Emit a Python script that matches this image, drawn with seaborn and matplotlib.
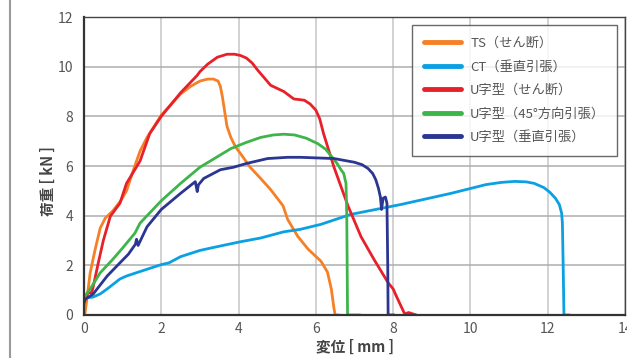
import matplotlib
matplotlib.use("Agg")
import matplotlib.pyplot as plt
from matplotlib.lines import Line2D
import seaborn as sns

# series (displacement mm, load kN)
ts_x = [0, 0.03, 0.16, 0.29, 0.42, 0.55, 0.75, 0.95, 1.1, 1.27, 1.45, 1.63, 2.0, 2.5, 2.75, 3.0,
        3.2, 3.35, 3.47, 3.53, 3.58, 3.62, 3.7, 3.8, 3.92, 4.05, 4.3, 4.57, 4.83, 5.15, 5.27, 5.53,
        5.8, 6.13, 6.3, 6.4, 6.47, 6.5, 6.6]
ts_y = [0, 0.1, 1.7, 2.65, 3.5, 3.9, 4.2, 4.6, 5.0, 5.8, 6.6, 7.15, 8.05, 8.9, 9.2, 9.42,
        9.5, 9.5, 9.42, 9.2, 8.8, 8.4, 7.6, 7.15, 6.77, 6.5, 5.95, 5.5, 5.05, 4.4, 3.85, 3.17,
        2.65, 2.17, 1.73, 1.05, 0.25, 0, 0]

ct_x = [0, 0.03, 0.1, 0.23, 0.42, 0.6, 0.93, 1.1, 1.45, 2.0, 2.2, 2.5, 3.0, 3.35, 4.05, 4.57,
        5.17, 5.6, 6.13, 6.9, 8.2, 9.5, 10.4, 10.8, 11.15, 11.45, 11.65, 11.9, 12.05, 12.2, 12.3,
        12.36, 12.38, 12.4, 12.42, 12.57]
ct_y = [0.6, 0.75, 0.7, 0.72, 0.85, 1.05, 1.45, 1.57, 1.75, 2.03, 2.1, 2.35, 2.6, 2.72, 2.95, 3.1,
        3.35, 3.45, 3.65, 4.05, 4.45, 4.9, 5.25, 5.34, 5.38, 5.36, 5.3, 5.13, 4.95, 4.7, 4.45,
        4.1, 3.7, 2.0, 0, 0]

us_x = [0, 0.1, 0.2, 0.24, 0.37, 0.5, 0.68, 0.93, 1.1, 1.45, 1.7, 2.0, 2.5, 2.93, 3.0, 3.2,
        3.45, 3.7, 3.9, 4.05, 4.2, 4.35, 4.5, 4.83, 5.17, 5.43, 5.7, 5.85, 6.0, 6.1, 6.2, 6.47,
        6.83, 7.17, 7.5, 7.87, 8.0, 8.08, 8.2, 8.3, 8.4, 8.6]
us_y = [0.5, 0.9, 0.9, 1.15, 2.1, 3.0, 3.97, 4.5, 5.3, 6.2, 7.3, 8.0, 8.95, 9.65, 9.8, 10.1,
        10.38, 10.5, 10.5, 10.45, 10.35, 10.15, 9.85, 9.25, 9.0, 8.7, 8.65, 8.5, 8.25, 7.9, 7.3,
        5.95, 4.4, 3.15, 2.25, 1.3, 1.05, 0.77, 0.37, 0.04, 0.1, 0]

u45_x = [0, 0.03, 0.16, 0.42, 0.75, 1.0, 1.32, 1.45, 2.0, 2.5, 3.0, 3.8, 4.2, 4.57, 4.9, 5.17,
         5.45, 5.75, 6.05, 6.25, 6.4, 6.55, 6.65, 6.72, 6.78, 6.8, 6.82, 6.85, 7.15]
u45_y = [0.4, 0.77, 1.05, 1.7, 2.25, 2.7, 3.3, 3.7, 4.6, 5.3, 5.95, 6.7, 6.95, 7.15, 7.25, 7.28,
         7.25, 7.12, 6.9, 6.68, 6.4, 6.1, 5.85, 5.7, 5.3, 4.0, 0, 0, 0]

uv_x = [0, 0.03, 0.24, 0.6, 0.93, 1.15, 1.33, 1.36, 1.4, 1.63, 2.0, 2.5, 2.88, 2.93, 2.96, 3.1,
        3.53, 3.87, 4.2, 4.75, 5.27, 5.6, 6.47, 7.0, 7.2, 7.35, 7.47, 7.55, 7.62, 7.67, 7.7, 7.74,
        7.8, 7.84, 7.86, 7.87, 8.03]
uv_y = [0.5, 0.63, 0.85, 1.57, 2.1, 2.45, 2.85, 3.05, 2.8, 3.55, 4.25, 4.9, 5.37, 4.97, 5.24, 5.5,
        5.85, 5.95, 6.1, 6.3, 6.35, 6.35, 6.3, 6.15, 6.05, 5.9, 5.7, 5.45, 5.1, 4.75, 4.25, 4.7,
        4.75, 4.5, 2.0, 0, 0]

labels = ["TS（せん断）", "CT（垂直引張）", "U字型（せん断）", "U字型（45°方向引張）", "U字型（垂直引張）"]
colors = ["#F58025", "#0AA0E2", "#E8202A", "#3DB54A", "#2B3592"]
series = [(ts_x, ts_y), (ct_x, ct_y), (us_x, us_y), (u45_x, u45_y), (uv_x, uv_y)]

sns.set_style("white")
plt.rcParams['font.family'] = ['Noto Sans CJK JP', 'DejaVu Sans']

fig = plt.figure(figsize=(6.27, 3.58), dpi=100)
ax = fig.add_axes([84/627, 1-315/358, 541/627, 298/358])

for (xs, ys), lab, col in zip(series, labels, colors):
    sns.lineplot(x=xs, y=ys, sort=False, color=col, lw=2, label=lab, ax=ax)

ax.set_xlim(0, 14)
ax.set_ylim(0, 12)
ax.set_xticks(range(0, 15, 2))
ax.set_yticks(range(0, 13, 2))

ax.xaxis.grid(True, color='#cfcfcf', lw=1.3)
ax.yaxis.grid(True, color='#adadad', lw=1.1)
ax.set_axisbelow(True)

for s in ['left', 'bottom']:
    ax.spines[s].set_color('#333333')
    ax.spines[s].set_linewidth(1.6)
for s in ['top', 'right']:
    ax.spines[s].set_color('#444444')
    ax.spines[s].set_linewidth(1.0)

ax.tick_params(direction='in', length=4, width=1, color='#333333',
               labelsize=10, labelcolor='#555555')
ax.tick_params(axis='y', pad=8)
ax.tick_params(axis='x', pad=5)

ax.set_xlabel("変位 [ mm ]", fontsize=10.5, fontweight='bold', color='#444444', va='center')
ax.xaxis.set_label_coords(0.5, -0.107)
ax.set_ylabel("荷重 [ kN ]", fontsize=10.5, fontweight='bold', color='#444444', va='center')
ax.yaxis.set_label_coords(-0.067, 0.45)

leg = ax.legend(loc='upper right', fontsize=9.5, frameon=True, fancybox=False,
                edgecolor='#444444', borderaxespad=0.6, borderpad=0.9,
                labelspacing=0.8, handlelength=2.8, handletextpad=0.7)
leg.get_frame().set_linewidth(1.0)
for t in leg.get_texts():
    t.set_color('#555555')
for h in leg.legend_handles:
    h.set_linewidth(3.5)

# page border on the left
fig.add_artist(Line2D([10/627, 10/627], [0, 1], color='#9a9a9a', lw=1.5))

fig.savefig("out.png", dpi=100)
